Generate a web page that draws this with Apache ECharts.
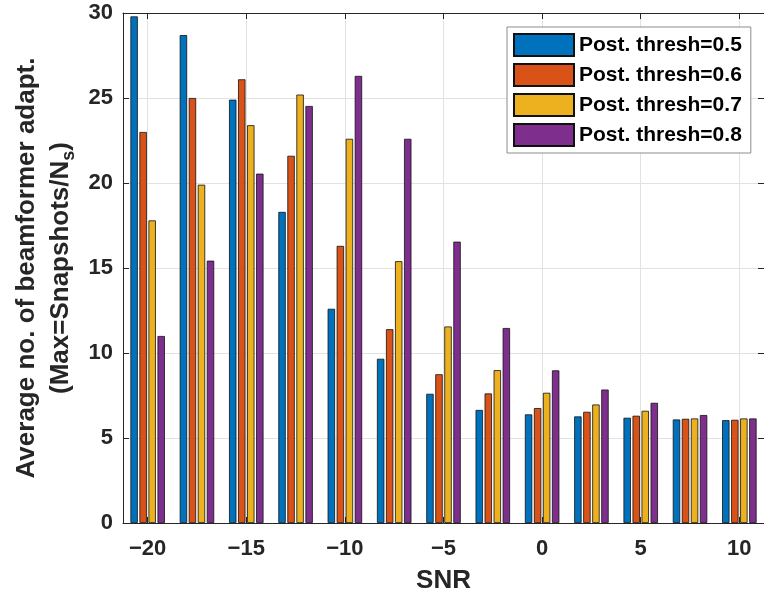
<!DOCTYPE html>
<html>
<head>
<meta charset="utf-8">
<script src="https://cdn.jsdelivr.net/npm/echarts@6/dist/echarts.min.js"></script>
<style>
  html, body { margin: 0; padding: 0; background: #fff; }
  #chart { width: 764px; height: 599px; }
</style>
</head>
<body>
<div id="chart"></div>
<script>
// SNR groups (dB) and average number of beamformer adaptations per posterior threshold
const snr = [-20, -17.5, -15, -12.5, -10, -7.5, -5, -2.5, 0, 2.5, 5, 7.5, 10];
const thresh05 = [29.8, 28.7, 24.9, 18.3, 12.6, 9.66, 7.6, 6.65, 6.39, 6.27, 6.19, 6.09, 6.05];
const thresh06 = [23.0, 25.0, 26.1, 21.6, 16.3, 11.4, 8.75, 7.62, 6.76, 6.54, 6.31, 6.13, 6.07];
const thresh07 = [17.8, 19.9, 23.4, 25.2, 22.6, 15.4, 11.56, 8.99, 7.66, 6.97, 6.6, 6.15, 6.15];
const thresh08 = [11.0, 15.43, 20.55, 24.53, 26.3, 22.6, 16.55, 11.47, 8.98, 7.85, 7.07, 6.35, 6.15];
const seriesNames = ['Post. thresh=0.5', 'Post. thresh=0.6', 'Post. thresh=0.7', 'Post. thresh=0.8'];
const xTicks = [-20, -15, -10, -5, 0, 5, 10];

const values = [thresh05, thresh06, thresh07, thresh08];
const colors = ['#0072BD', '#D95319', '#EDB120', '#7E2F8E'];
const axisColor = '#262626';
const gridColor = '#e2e2e2';
const font = 'Liberation Sans, Arial, Helvetica, sans-serif';
const minus = v => String(v).replace('-', '\u2212');

const chart = echarts.init(document.getElementById('chart'), null, { renderer: 'canvas' });

const series = values.map((vals, k) => ({
  name: seriesNames[k],
  type: 'bar',
  xAxisIndex: 0,
  yAxisIndex: 0,
  barWidth: 7.4,
  barGap: '22%',
  itemStyle: { color: colors[k], borderColor: '#111', borderWidth: 0.8 },
  data: snr.map((x, i) => [x, vals[i]])
}));

chart.setOption({
  animation: false,
  backgroundColor: '#fff',
  textStyle: { fontFamily: font },
  grid: { left: 123, top: 13, right: -6, bottom: 76, containLabel: false },
  legend: {
    orient: 'vertical',
    left: 507,
    top: 27,
    padding: [6, 9, 6, 6],
    itemWidth: 60,
    itemHeight: 22,
    itemGap: 6,
    icon: 'rect',
    borderColor: '#8c8c8c',
    borderWidth: 1,
    backgroundColor: '#fff',
    textStyle: { fontSize: 21, fontWeight: 'bold', color: '#000', fontFamily: font },
    data: seriesNames
  },
  xAxis: [
    {
      type: 'value',
      position: 'bottom',
      min: -21.25,
      max: 11.25,
      axisLine: { show: true, onZero: false, lineStyle: { color: axisColor, width: 1 } },
      axisTick: { show: true, inside: true, length: 6, customValues: xTicks, lineStyle: { color: axisColor } },
      axisLabel: {
        customValues: xTicks, formatter: minus, margin: 15,
        fontSize: 22, fontWeight: 'bold', color: axisColor, fontFamily: font
      },
      splitLine: { show: true, lineStyle: { color: gridColor, width: 1 } },
      name: 'SNR',
      nameLocation: 'middle',
      nameGap: 45,
      nameTextStyle: { fontSize: 26, fontWeight: 'bold', color: axisColor, fontFamily: font }
    },
    {
      type: 'value',
      position: 'top',
      min: -21.25,
      max: 11.25,
      axisLine: { show: true, onZero: false, lineStyle: { color: axisColor, width: 1 } },
      axisTick: { show: true, inside: true, length: 6, customValues: xTicks, lineStyle: { color: axisColor } },
      axisLabel: { show: false },
      splitLine: { show: false }
    }
  ],
  yAxis: [
    {
      type: 'value',
      position: 'left',
      min: 0,
      max: 30,
      interval: 5,
      axisLine: { show: true, onZero: false, lineStyle: { color: axisColor, width: 1 } },
      axisTick: { show: true, inside: true, length: 6, lineStyle: { color: axisColor } },
      axisLabel: { margin: 10, fontSize: 22, fontWeight: 'bold', color: axisColor, fontFamily: font },
      splitLine: { show: true, lineStyle: { color: gridColor, width: 1 } },
      name: '{a|Average no. of beamformer adapt.}\n{a|(Max=Snapshots/N}{s|s}{a|)}',
      nameLocation: 'middle',
      nameGap: 44,
      nameTextStyle: {
        color: axisColor,
        rich: {
          a: { fontSize: 26, fontWeight: 'bold', color: axisColor, fontFamily: font, lineHeight: 34 },
          s: { fontSize: 18, fontWeight: 'bold', color: axisColor, fontFamily: font, lineHeight: 34, verticalAlign: 'bottom' }
        }
      }
    },
    {
      type: 'value',
      position: 'right',
      min: 0,
      max: 30,
      interval: 5,
      axisLine: { show: true, onZero: false, lineStyle: { color: axisColor, width: 1 } },
      axisTick: { show: true, inside: true, length: 6, lineStyle: { color: axisColor } },
      axisLabel: { show: false },
      splitLine: { show: false }
    }
  ],
  series: series
});
</script>
</body>
</html>
